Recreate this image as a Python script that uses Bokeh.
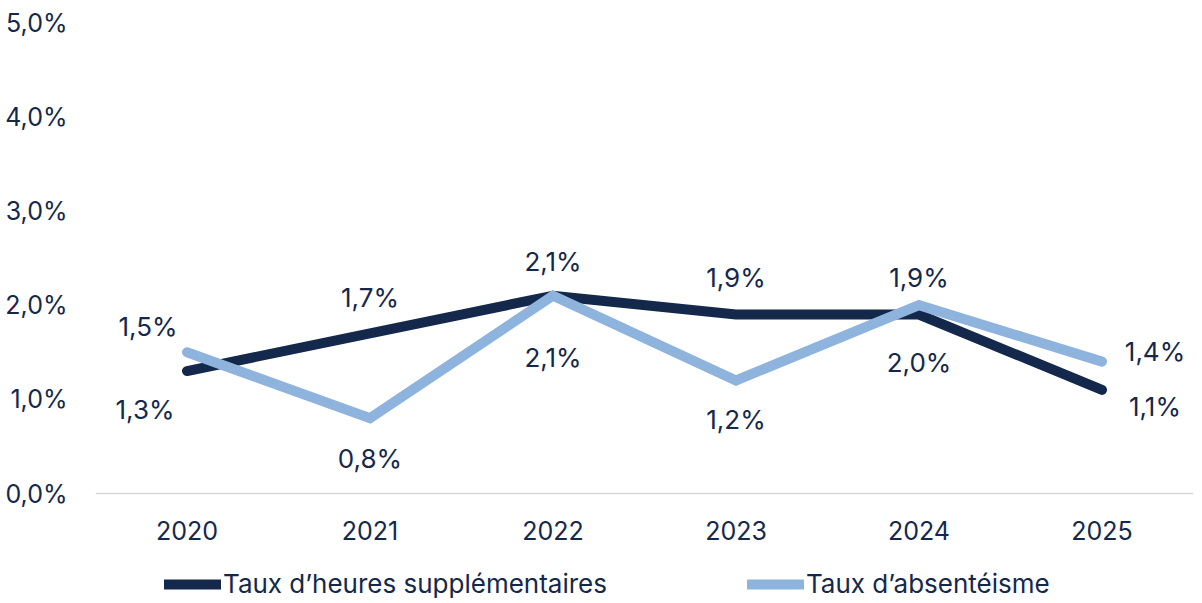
from bokeh.plotting import figure
from bokeh.models import ColumnDataSource, FactorRange, Range1d, FixedTicker, Legend, LegendItem
from bokeh.core.properties import value
from bokeh.embed import file_html
from bokeh.resources import INLINE

years = ["2020", "2021", "2022", "2023", "2024", "2025"]
heures_sup = [1.3, 1.7, 2.1, 1.9, 1.9, 1.1]
absenteisme = [1.5, 0.8, 2.1, 1.2, 2.0, 1.4]
y_ticks = [0, 1, 2, 3, 4, 5]
y_tick_labels = ["0,0%", "1,0%", "2,0%", "3,0%", "4,0%", "5,0%"]
series_names = ["Taux d\u2019heures suppl\u00e9mentaires", "Taux d\u2019absent\u00e9isme"]

# label offsets (screen px)
hs_dx = [-42, 0, 0, 0, 0, 53]
hs_dy = [38, -36, -34, -37, -37, 17]
ab_dx = [-39, 0, 0, 0, 0, 53]
ab_dy = [-26, 40, 62, 39, 57, -10]

NAVY = "#14284B"
LIGHT = "#8EB4DE"
FONT = "Inter"

# layout: plotting area 0..5 is 471 px tall; frame extends below to hold axis labels and legend
PLOT_H = 471
FRAME_H = 578
Y_MAX = 5.0
y_start = -(FRAME_H - PLOT_H) * Y_MAX / PLOT_H

def fmt(v):
    return ("%.1f%%" % v).replace(".", ",")

p = figure(x_range=FactorRange(*years), y_range=Range1d(y_start, Y_MAX),
           frame_width=1098, frame_height=FRAME_H, output_backend="svg",
           toolbar_location=None, min_border_left=95, min_border_top=22,
           min_border_right=3, min_border_bottom=0)
p.outline_line_color = None
p.xgrid.grid_line_color = None
p.ygrid.grid_line_color = None

src_hs = ColumnDataSource(dict(x=years, y=heures_sup, t=[fmt(v) for v in heures_sup], dx=hs_dx, dy=hs_dy))
src_ab = ColumnDataSource(dict(x=years, y=absenteisme, t=[fmt(v) for v in absenteisme], dx=ab_dx, dy=ab_dy))

r1 = p.line("x", "y", source=src_hs, line_color=NAVY, line_width=10, line_cap="round", line_join="miter")
r2 = p.line("x", "y", source=src_ab, line_color=LIGHT, line_width=10, line_cap="round", line_join="miter")

for s in (src_hs, src_ab):
    p.text("x", "y", text="t", source=s, x_offset="dx", y_offset="dy",
           text_align="center", text_baseline="middle",
           text_font=value(FONT), text_font_size="26px", text_color=NAVY)

p.yaxis.ticker = FixedTicker(ticks=y_ticks)
p.yaxis.major_label_overrides = {t: l for t, l in zip(y_ticks, y_tick_labels)}
p.yaxis.axis_line_color = None
p.yaxis.major_tick_line_color = None
p.yaxis.minor_tick_line_color = None
p.yaxis.major_label_standoff = 22
p.yaxis.major_label_text_font = FONT
p.yaxis.major_label_text_font_size = "25px"
p.yaxis.major_label_text_color = NAVY

p.xaxis.fixed_location = 0
p.xaxis.axis_line_color = "#D9D9D9"
p.xaxis.axis_line_width = 1.5
p.xaxis.major_tick_line_color = None
p.xaxis.minor_tick_line_color = None
p.xaxis.major_label_standoff = 21
p.xaxis.major_label_text_font = FONT
p.xaxis.major_label_text_font_size = "25px"
p.xaxis.major_label_text_color = NAVY

legend = Legend(items=[LegendItem(label=series_names[0], renderers=[r1]),
                       LegendItem(label=series_names[1], renderers=[r2])],
                orientation="horizontal", location=(69, 1),
                glyph_width=57, glyph_height=20, label_standoff=2, spacing=140,
                padding=0, margin=0, border_line_color=None, background_fill_alpha=0,
                label_text_font=FONT, label_text_font_size="26px", label_text_color=NAVY)
p.add_layout(legend)

open("out.html", "w").write(file_html(p, INLINE))
